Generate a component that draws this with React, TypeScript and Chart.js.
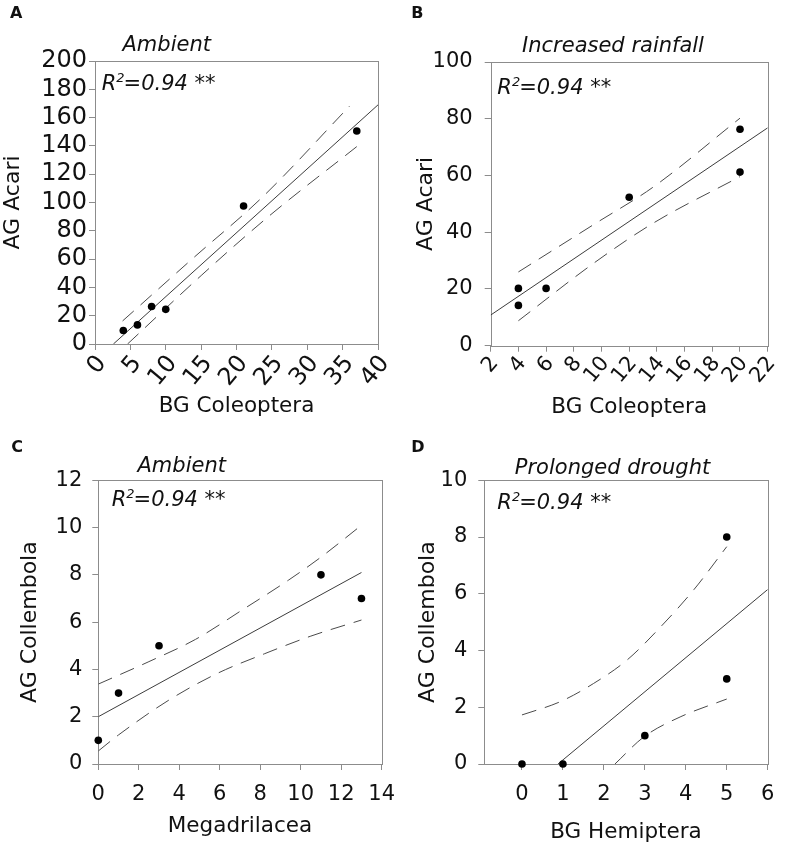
import React, { useEffect, useRef } from "react";
import { Chart, registerables } from "chart.js";

Chart.register(...registerables);

const FONT = "'DejaVu Sans', 'Liberation Sans', Arial, sans-serif";
const FRAME = "#8c8c8c";
const INK = "#111111";
const FIT = "#3c3c3c";
const BAND = "#4a4a4a";

// ---------- Panel A: Ambient, BG Coleoptera vs AG Acari ----------
const aX = [4, 6, 8, 10, 21, 37];
const aY = [9.5, 13.5, 26.5, 24.5, 97.5, 150.5];
const aFitX = [2.6, 40];
const aFitY = [0, 169];
const aUpperX = [3.9, 14.1, 23.6, 36.0];
const aUpperY = [16.3, 61.7, 103.5, 168.2];
const aLowerX = [4.6, 15.1, 24.5, 37.0];
const aLowerY = [0, 48.8, 90, 139.5];

// ---------- Panel B: Increased rainfall ----------
const bX = [4, 4, 6, 12, 20, 20];
const bY = [20.2, 14.2, 20.2, 52.3, 76.3, 61.2];
const bFitX = [2, 22];
const bFitY = [10.8, 76.8];
const bUpperX = [4, 9.5, 13.7, 20];
const bUpperY = [26, 42.9, 55.8, 80.2];
const bLowerX = [4, 9.5, 13.7, 20];
const bLowerY = [8.8, 29.3, 43.1, 59.6];

// ---------- Panel C: Ambient, Megadrilacea vs AG Collembola ----------
const cX = [0, 1, 3, 11, 13];
const cY = [1, 3, 5, 8, 7];
const cFitX = [0, 13];
const cFitY = [2.0, 8.1];
const cUpperX = [0, 2.5, 4.8, 7.1, 9.4, 11, 13];
const cUpperY = [3.38, 4.33, 5.27, 6.51, 7.78, 8.75, 10.1];
const cLowerX = [0, 1, 3.5, 5.9, 8.2, 10.5, 13];
const cLowerY = [0.55, 1.23, 2.71, 3.84, 4.66, 5.41, 6.09];

// ---------- Panel D: Prolonged drought, BG Hemiptera vs AG Collembola ----------
const dX = [0, 1, 3, 5, 5];
const dY = [0, 0, 1, 8, 3];
const dFitX = [0.88, 6];
const dFitY = [0, 6.15];
const dUpperX = [0, 0.94, 1.75, 2.57, 3.39, 4.2, 5];
const dUpperY = [1.73, 2.2, 2.84, 3.67, 4.84, 6.15, 7.66];
const dLowerX = [2.27, 2.98, 3.88, 5];
const dLowerY = [0, 0.96, 1.67, 2.29];

// ---------- text ----------
const letters = ["A", "B", "C", "D"];
const titles = ["Ambient", "Increased rainfall", "Ambient", "Prolonged drought"];
const xTitles = ["BG Coleoptera", "BG Coleoptera", "Megadrilacea", "BG Hemiptera"];
const yTitles = ["AG Acari", "AG Acari", "AG Collembola", "AG Collembola"];
const r2Text = "=0.94 **";

// axis ranges
const xMin = [0, 2, 0, -0.92];
const xMax = [40, 22, 14, 6];
const xStep = [5, 2, 2, 1];
const yMin = [0, 0, 0, 0];
const yMax = [200, 100, 12, 10];
const yStep = [20, 20, 2, 2];

const series = [
  { x: aX, y: aY, fx: aFitX, fy: aFitY, ux: aUpperX, uy: aUpperY, lx: aLowerX, ly: aLowerY },
  { x: bX, y: bY, fx: bFitX, fy: bFitY, ux: bUpperX, uy: bUpperY, lx: bLowerX, ly: bLowerY },
  { x: cX, y: cY, fx: cFitX, fy: cFitY, ux: cUpperX, uy: cUpperY, lx: cLowerX, ly: cLowerY },
  { x: dX, y: dY, fx: dFitX, fy: dFitY, ux: dUpperX, uy: dUpperY, lx: dLowerX, ly: dLowerY },
];

// ---------- layout (page pixel positions, full-page canvases) ----------
const layouts = [
  { pad: { left: 0, top: 61, right: 409, bottom: 429 }, yW: 95, xH: 76, rot: 50, tick: 24, yTickPad: 2, xTickPad: 0, labelOffset: 7, yTitlePad: 0, xTitlePad: 1,
    letter: [10, 17.5], title: [166.7, 50.7], r2: [101.7, 90] },
  { pad: { left: 393, top: 62, right: 13.3, bottom: 429 }, yW: 97.7, xH: 74.3, rot: 50, tick: 21, yTickPad: 12, xTickPad: 0, labelOffset: 4, yTitlePad: 20.5, xTitlePad: 0,
    letter: [411.2, 17.5], title: [613, 51.7], r2: [497.3, 94] },
  { pad: { left: 0, top: 480.3, right: 405.3, bottom: 0 }, yW: 98.3, xH: 85, rot: 0, tick: 21, yTickPad: 10, xTickPad: 12, labelOffset: 0, yTitlePad: 16.8, xTitlePad: 10,
    letter: [11.2, 451.7], title: [181.7, 471.7], r2: [111.7, 506] },
  { pad: { left: 393, top: 480.3, right: 19.3, bottom: 0 }, yW: 91.3, xH: 85, rot: 0, tick: 21, yTickPad: 11, xTickPad: 12, labelOffset: 0, yTitlePad: 22.1, xTitlePad: 4,
    letter: [411.2, 451.7], title: [612.5, 473.5], r2: [497.3, 509] },
];

function pts(xs: number[], ys: number[]) {
  return xs.map((x, i) => ({ x, y: ys[i] }));
}

const decor = {
  id: "decor",
  beforeDatasetsDraw(chart: any) {
    const { ctx, chartArea } = chart;
    const l = Math.round(chartArea.left) + 0.5;
    const t = Math.round(chartArea.top) + 0.5;
    const r = Math.round(chartArea.right) + 0.5;
    const b = Math.round(chartArea.bottom) + 0.5;
    ctx.save();
    ctx.strokeStyle = FRAME;
    ctx.lineWidth = 1;
    ctx.strokeRect(l, t, r - l, b - t);
    ctx.restore();
  },
  afterDraw(chart: any, _args: any, opts: any) {
    const { ctx } = chart;
    ctx.save();
    ctx.fillStyle = INK;
    ctx.textBaseline = "alphabetic";
    // panel letter
    ctx.font = `bold 16px ${FONT}`;
    ctx.textAlign = "left";
    ctx.fillText(opts.letter, opts.letterPos[0], opts.letterPos[1]);
    // title
    ctx.font = `italic 21px ${FONT}`;
    ctx.textAlign = "center";
    ctx.fillText(opts.title, opts.titlePos[0], opts.titlePos[1]);
    // R^2 annotation
    ctx.textAlign = "left";
    let x = opts.r2Pos[0];
    const y = opts.r2Pos[1];
    ctx.font = `italic 21px ${FONT}`;
    ctx.fillText("R", x, y);
    x += ctx.measureText("R").width;
    ctx.font = `italic 13px ${FONT}`;
    ctx.fillText("2", x, y - 8);
    x += ctx.measureText("2").width - 1;
    ctx.font = `italic 21px ${FONT}`;
    ctx.fillText(r2Text, x, y);
    ctx.restore();
  },
};

function Panel({ idx }: { idx: number }) {
  const ref = useRef<HTMLCanvasElement>(null);
  useEffect(() => {
    const s = series[idx];
    const L = layouts[idx];
    const chart = new Chart(ref.current!, {
      type: "line",
      data: {
        datasets: [
          {
            data: pts(s.x, s.y),
            showLine: false,
            pointRadius: 3.8,
            pointBackgroundColor: "#000",
            pointBorderColor: "#000",
            pointBorderWidth: 0,
            clip: false,
          } as any,
          {
            data: pts(s.fx, s.fy),
            borderColor: FIT,
            borderWidth: 1,
            pointRadius: 0,
            fill: false,
          },
          {
            data: pts(s.ux, s.uy),
            borderColor: BAND,
            borderWidth: 1,
            borderDash: [15, 9],
            pointRadius: 0,
            fill: false,
            cubicInterpolationMode: "monotone",
          },
          {
            data: pts(s.lx, s.ly),
            borderColor: BAND,
            borderWidth: 1,
            borderDash: [15, 9],
            pointRadius: 0,
            fill: false,
            cubicInterpolationMode: "monotone",
          },
        ],
      },
      options: {
        responsive: false,
        animation: false,
        events: [],
        layout: { padding: L.pad },
        plugins: {
          legend: { display: false },
          tooltip: { enabled: false },
          decor: {
            letter: letters[idx],
            letterPos: L.letter,
            title: titles[idx],
            titlePos: L.title,
            r2Pos: L.r2,
          },
        } as any,
        scales: {
          x: {
            type: "linear",
            min: xMin[idx],
            max: xMax[idx],
            border: { display: false },
            grid: { display: true, drawOnChartArea: false, drawTicks: true, tickLength: 6, tickColor: FRAME, lineWidth: 1 },
            ticks: {
              stepSize: xStep[idx],
              autoSkip: false,
              includeBounds: false,
              minRotation: L.rot,
              maxRotation: L.rot,
              padding: L.xTickPad,
              labelOffset: L.labelOffset,
              color: INK,
              font: { family: FONT, size: L.tick },
            },
            title: {
              display: true,
              text: xTitles[idx],
              color: INK,
              font: { family: FONT, size: 21.5 },
              padding: { top: 0, bottom: L.xTitlePad },
            },
            afterFit: (sc: any) => {
              sc.height = L.xH;
            },
          } as any,
          y: {
            type: "linear",
            min: yMin[idx],
            max: yMax[idx],
            border: { display: false },
            grid: { display: true, drawOnChartArea: false, drawTicks: true, tickLength: 6, tickColor: FRAME, lineWidth: 1 },
            ticks: {
              stepSize: yStep[idx],
              autoSkip: false,
              padding: L.yTickPad,
              color: INK,
              font: { family: FONT, size: L.tick },
            },
            title: {
              display: true,
              text: yTitles[idx],
              color: INK,
              font: { family: FONT, size: 22 },
              padding: { top: L.yTitlePad, bottom: 0 },
            },
            afterFit: (sc: any) => {
              sc.width = L.yW;
            },
          } as any,
        },
      },
      plugins: [decor as any],
    });
    return () => chart.destroy();
  }, [idx]);
  return (
    <canvas
      ref={ref}
      width={787}
      height={849}
      style={{ position: "absolute", left: 0, top: 0, width: 787, height: 849, display: "block" }}
    />
  );
}

export default function App() {
  return (
    <div style={{ position: "absolute", left: 0, top: 0, width: 787, height: 849, background: "#fff", overflow: "hidden" }}>
      {[0, 1, 2, 3].map((i) => (
        <Panel key={i} idx={i} />
      ))}
    </div>
  );
}
